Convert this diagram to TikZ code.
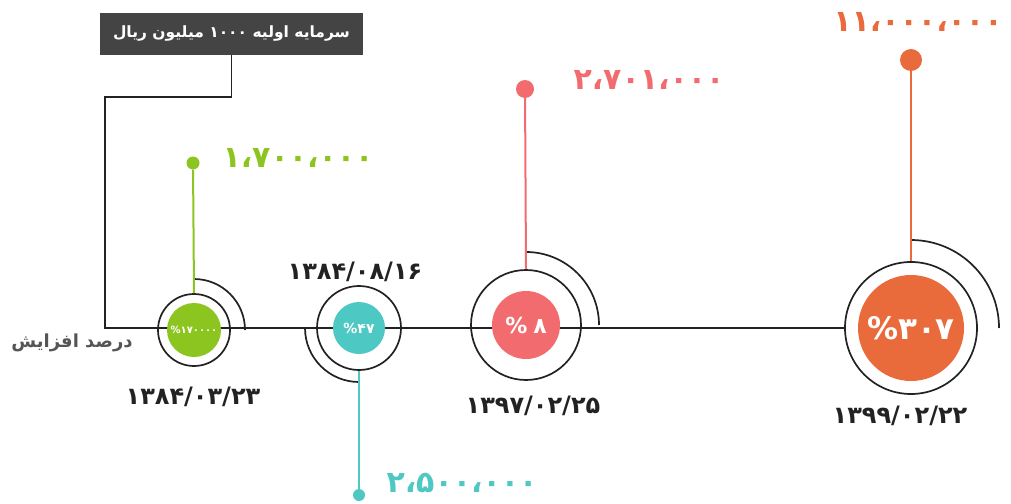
\documentclass[tikz,border=0pt]{standalone}
\usepackage{fontspec}
\newfontfamily\fa[Script=Arabic]{DejaVu Sans}
\TeXXeTstate=1
\definecolor{cGreen}{HTML}{8DC520}
\definecolor{cTeal}{HTML}{4EC8C2}
\definecolor{cRed}{HTML}{F26B6E}
\definecolor{cOrange}{HTML}{E96A3B}
\definecolor{cBox}{HTML}{444444}
\definecolor{cInk}{HTML}{222222}
\definecolor{cGray}{HTML}{555555}
\begin{document}
\begin{tikzpicture}[x=1pt,y=-1pt,
  ring/.style={circle,draw=cInk,line width=1.7pt,inner sep=0pt,minimum size=#1},
  disc/.style={circle,fill=#1,inner sep=0pt,text=white,font=\fa\bfseries},
  dotc/.style={circle,fill=#1,inner sep=0pt},
  stem/.style={draw=#1,line width=2pt},
  track/.style={draw=cInk,line width=1.7pt},
  quarter/.style={draw=cInk,line width=1.7pt},
  datelbl/.style={font=\fa\bfseries\fontsize{24}{26}\selectfont,text=cInk},
  amount/.style={font=\fa\bfseries\fontsize{30}{32}\selectfont,text=#1}]
\useasboundingbox (0,0) rectangle (1011,503);

% title box and the connector down to the time line
\node[fill=cBox,text=white,minimum width=263pt,minimum height=42pt,inner sep=0pt,
  font=\fa\bfseries\fontsize{15.5}{17}\selectfont] (box) at (231.5,34)
  {\beginR سرمایه اولیه ۱۰۰۰ میلیون ریال\endR};
\coordinate (k1) at (105,97);

% ring centres
\path (194,330) coordinate (p1) (359,328) coordinate (p2)
      (526,325) coordinate (p3) (911,328) coordinate (p4);
\node[ring=72pt] (r1) at (p1) {};
\node[ring=84pt] (r2) at (p2) {};
\node[ring=110pt] (r3) at (p3) {};
\node[ring=132pt] (r4) at (p4) {};

\draw[track] (box.south) |- (k1) |- (r4.west);

% quarter arcs around the rings
\draw[quarter] (p1) ++(-90:51) arc (-90:0:51);
\draw[quarter] (p2) ++(180:54) arc (180:90:54);
\draw[quarter] (p3) ++(-90:73) arc (-90:0:73);
\draw[quarter] (p4) ++(-90:88) arc (-90:0:88);

% coloured discs
\node[disc=cGreen,minimum size=54pt,font=\fa\bfseries\fontsize{10}{11}\selectfont] (c1) at (p1)
  {\hbox{\%}\hbox{۱۷۰۰۰۰}};
\node[disc=cTeal,minimum size=52pt,font=\fa\bfseries\fontsize{14}{15}\selectfont] (c2) at (p2)
  {\hbox{\%}\hbox{۴۷}};
\node[disc=cRed,minimum size=68pt,font=\fa\bfseries\fontsize{22}{24}\selectfont] (c3) at (p3)
  {\hbox{\%}\hspace{6pt}\hbox{۸}};
\node[disc=cOrange,minimum size=106pt,font=\fa\bfseries\fontsize{31}{33}\selectfont] (c4) at (p4)
  {\hbox{\%}\hbox{۳۰۷}};

% stems with their end dots
\node[dotc=cGreen,minimum size=13pt] (d1) at (193,163) {};
\node[dotc=cTeal,minimum size=12pt] (d2) at (359,495) {};
\node[dotc=cRed,minimum size=18pt] (d3) at (525,89) {};
\node[dotc=cOrange,minimum size=22pt] (d4) at (911,60) {};
\draw[stem=cGreen] (d1) -- (r1.north);
\draw[stem=cTeal] (r2.south) -- (d2);
\draw[stem=cRed] (d3) -- (r3.north);
\draw[stem=cOrange] (d4) -- (r4.north);

% amounts
\node[amount=cGreen] (v1) at (298,158) {۱،۷۰۰،۰۰۰};
\node[amount=cTeal] (v2) at (462,483) {۲،۵۰۰،۰۰۰};
\node[amount=cRed] (v3) at (649,80) {۲،۷۰۱،۰۰۰};
\node[amount=cOrange] (v4) at (918,22) {۱۱،۰۰۰،۰۰۰};

% dates
\node[datelbl] (t1) at (193,397) {۱۳۸۴/۰۳/۲۳};
\node[datelbl] (t2) at (355,272) {۱۳۸۴/۰۸/۱۶};
\node[datelbl] (t3) at (533,406) {۱۳۹۷/۰۲/۲۵};
\node[datelbl] (t4) at (900,416) {۱۳۹۹/۰۲/۲۲};

% axis caption
\node[font=\fa\bfseries\fontsize{18}{20}\selectfont,text=cGray] (cap) at (72,343)
  {\beginR درصد افزایش\endR};
\end{tikzpicture}
\end{document}
